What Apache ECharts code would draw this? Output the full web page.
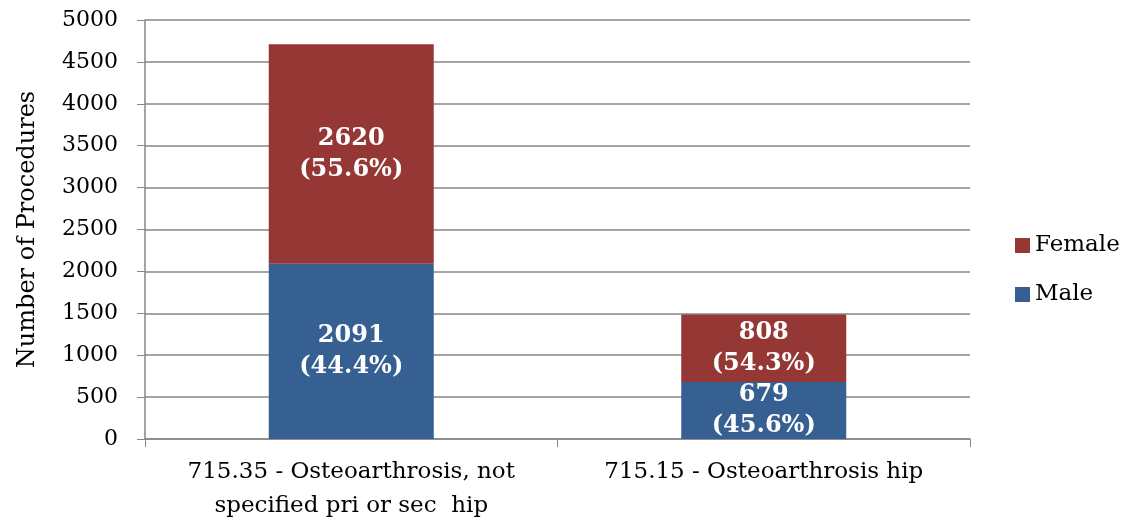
<!doctype html>
<html>
<head>
<meta charset="UTF-8">
<script src="https://cdn.jsdelivr.net/npm/echarts@6/dist/echarts.min.js"></script>
<style>
  html, body { margin: 0; padding: 0; background: #fff; }
  #chart { width: 1131px; height: 523px; }
</style>
</head>
<body>
<div id="chart"></div>
<script>
  // data
  const categories = ['715.35 - Osteoarthrosis, not\nspecified pri or sec  hip', '715.15 - Osteoarthrosis hip'];
  const maleValues = [2091, 679];
  const femaleValues = [2620, 808];
  const malePct = ['44.4%', '45.6%'];
  const femalePct = ['55.6%', '54.3%'];

  const font = 'DejaVu Serif';
  const chart = echarts.init(document.getElementById('chart'));

  function segLabel(pcts) {
    return {
      show: true,
      position: 'inside',
      color: '#fff',
      fontFamily: font,
      fontWeight: 'bold',
      fontSize: 24,
      lineHeight: 31,
      formatter: p => p.value + '\n(' + pcts[p.dataIndex] + ')'
    };
  }

  chart.setOption({
    animation: false,
    textStyle: { fontFamily: font },
    grid: { left: 145, right: 161, top: 20, bottom: 83 },
    legend: {
      data: ['Female', 'Male'],
      orient: 'vertical',
      left: 1010,
      top: 229,
      itemWidth: 15,
      itemHeight: 15,
      itemGap: 26,
      icon: 'rect',
      textStyle: { fontFamily: font, fontSize: 23, color: '#000' }
    },
    xAxis: {
      type: 'category',
      data: categories,
      axisLine: { lineStyle: { color: '#868686', width: 1.5 } },
      axisTick: { show: true, length: 8, lineStyle: { color: '#868686' } },
      axisLabel: {
        color: '#000', fontSize: 23, lineHeight: 34, margin: 16, fontFamily: font,
        interval: 0, hideOverlap: false
      }
    },
    yAxis: {
      type: 'value',
      min: 0,
      max: 5000,
      interval: 500,
      name: 'Number of Procedures',
      nameLocation: 'middle',
      nameGap: 105,
      nameTextStyle: { color: '#000', fontSize: 24, fontFamily: font },
      axisLine: { show: true, lineStyle: { color: '#868686', width: 1.5 } },
      axisTick: { show: true, length: 8, lineStyle: { color: '#868686' } },
      axisLabel: { color: '#000', fontSize: 22, margin: 27, fontFamily: font, formatter: v => String(v) },
      splitLine: { lineStyle: { color: '#868686', width: 1.5 } }
    },
    series: [
      {
        name: 'Male',
        type: 'bar',
        stack: 'total',
        barWidth: '40%',
        itemStyle: { color: '#376092' },
        label: segLabel(malePct),
        data: maleValues
      },
      {
        name: 'Female',
        type: 'bar',
        stack: 'total',
        barWidth: '40%',
        itemStyle: { color: '#953735' },
        label: segLabel(femalePct),
        data: femaleValues
      }
    ]
  });
</script>
</body>
</html>
